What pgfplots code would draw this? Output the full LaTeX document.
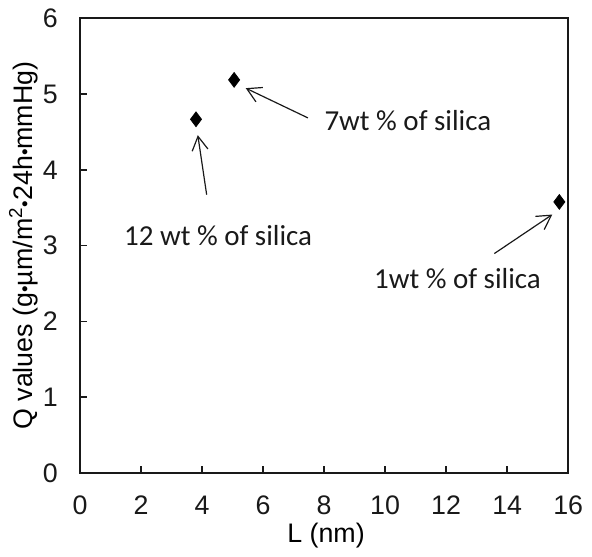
\documentclass[border=0pt]{standalone}
\usepackage{fontspec}
\setmainfont{Liberation Sans}
\newfontfamily\calib{Carlito}
\usepackage{graphicx}
\usepackage{pgfplots}
\pgfplotsset{compat=1.18}
\usetikzlibrary{arrows.meta}
\newcommand{\dt}{\raisebox{0.05em}{\scalebox{0.7}{•}}}
\begin{document}
\fontsize{13.5pt}{16pt}\selectfont
\begin{tikzpicture}
\begin{axis}[
  scale only axis,
  width=246pt, height=229pt,
  xmin=0, xmax=16, ymin=0, ymax=6,
  xtick={0,2,...,16}, ytick={0,1,...,6},
  tick align=inside,
  xtick pos=bottom, ytick pos=left,
  major tick length=3.5pt,
  axis line style={line width=1pt, black!90},
  every tick/.style={line width=0.8pt, black!90},
  /pgf/number format/assume math mode=true,
  tick label style={font=\fontsize{13.5pt}{16pt}\selectfont, text=black!90},
  xticklabel style={yshift=-7pt},
  yticklabel style={xshift=-6.5pt},
  xlabel={L (nm)},
  ylabel={Q values (g\dt µm/m\textsuperscript{2}\dt 24h\dt mmHg)},
  every axis x label/.style={at={(axis description cs:0.504,-0.1376)},anchor=center,font=\fontsize{13.5pt}{16pt}\selectfont},
  every axis y label/.style={at={(axis description cs:-0.116,0.5)},rotate=90,anchor=center,font=\fontsize{13.5pt}{16pt}\selectfont},
  clip=false,
]
\addplot[only marks, mark=diamond*, mark size=3.7pt, black, mark options={fill=black}]
  coordinates {(3.80,4.668) (5.05,5.188) (15.71,3.577)};

\draw[line width=0.6pt, black!90, -{Straight Barb[length=7pt,width=8pt]}]
  (axis cs:4.15,3.672) -- (axis cs:3.86,4.458);
\draw[line width=0.6pt, black!90, -{Straight Barb[length=7pt,width=8pt]}]
  (axis cs:7.47,4.686) -- (axis cs:5.431,5.079);
\draw[line width=0.6pt, black!90, -{Straight Barb[length=7pt,width=8pt]}]
  (axis cs:13.58,2.895) -- (axis cs:15.48,3.41);

\node[anchor=base west, inner sep=0pt, font=\calib\fontsize{14.6pt}{17pt}\selectfont, text=black!90]
  at (axis cs:1.431,3.0) {12 wt \% of silica};
\node[anchor=base west, inner sep=0pt, font=\calib\fontsize{14.6pt}{17pt}\selectfont, text=black!90]
  at (axis cs:8.0,4.524) {7wt \% of silica};
\node[anchor=base west, inner sep=0pt, font=\calib\fontsize{14.6pt}{17pt}\selectfont, text=black!90]
  at (axis cs:9.626,2.437) {1wt \% of silica};
\end{axis}
\end{tikzpicture}
\end{document}
